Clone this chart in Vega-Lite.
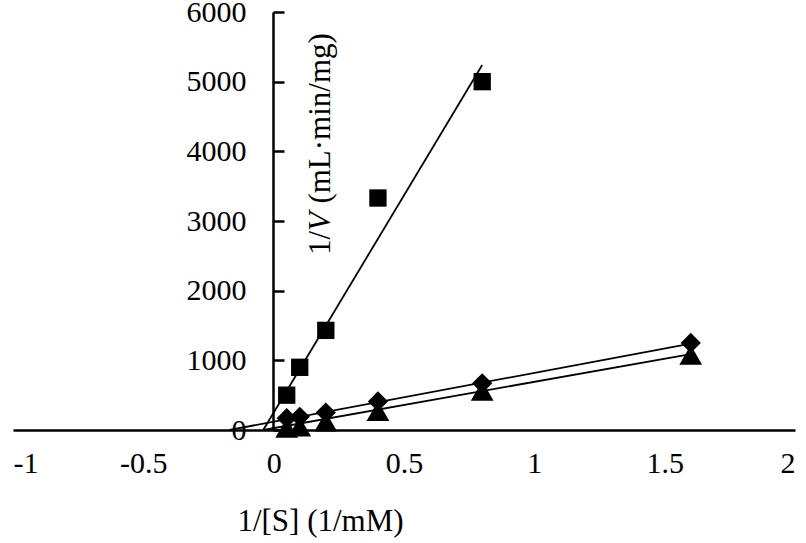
{
  "$schema": "https://vega.github.io/schema/vega-lite/v6.json",
  "width": 782,
  "height": 418,
  "autosize": {"type": "none"},
  "padding": {"left": 13, "top": 12, "right": 11, "bottom": 113},
  "background": "white",
  "config": {
    "view": {"stroke": null},
    "font": "Liberation Serif",
    "axis": {"grid": false, "labelFont": "Liberation Serif", "titleFont": "Liberation Serif", "labelColor": "#000", "titleColor": "#000", "domainColor": "#000", "tickColor": "#000", "titleFontWeight": "normal"}
  },
  "datasets": {
    "points": [
      {"series": "square", "s": 0.05, "v": 500},
      {"series": "square", "s": 0.1, "v": 900},
      {"series": "square", "s": 0.2, "v": 1430},
      {"series": "square", "s": 0.4, "v": 3330},
      {"series": "square", "s": 0.8, "v": 5000},
      {"series": "diamond", "s": 0.05, "v": 170},
      {"series": "diamond", "s": 0.1, "v": 190},
      {"series": "diamond", "s": 0.2, "v": 250},
      {"series": "diamond", "s": 0.4, "v": 410},
      {"series": "diamond", "s": 0.8, "v": 670},
      {"series": "diamond", "s": 1.6, "v": 1250},
      {"series": "triangle-up", "s": 0.05, "v": 30},
      {"series": "triangle-up", "s": 0.1, "v": 50},
      {"series": "triangle-up", "s": 0.2, "v": 120},
      {"series": "triangle-up", "s": 0.4, "v": 270},
      {"series": "triangle-up", "s": 0.8, "v": 560},
      {"series": "triangle-up", "s": 1.6, "v": 1080}
    ],
    "fits": [
      {"series": "square", "s": -0.04, "v": 0},
      {"series": "square", "s": 0.8, "v": 5240},
      {"series": "diamond", "s": -0.17, "v": 0},
      {"series": "diamond", "s": 1.6, "v": 1240},
      {"series": "triangle-up", "s": -0.04, "v": 0},
      {"series": "triangle-up", "s": 1.6, "v": 1090}
    ],
    "one": [{}]
  },
  "layer": [
    {
      "data": {"name": "fits"},
      "mark": {"type": "line", "color": "#000", "strokeWidth": 1.8},
      "encoding": {
        "x": {"field": "s", "type": "quantitative", "scale": {"domain": [-1, 2], "nice": false, "zero": false},
          "axis": {"values": [-1, -0.5, 0, 0.5, 1, 1.5, 2], "labelExpr": "'' + datum.value", "ticks": false, "domainWidth": 2.5, "labelFontSize": 30, "labelPadding": 18, "title": "1/[S] (1/mM)", "titleFontSize": 31, "titleX": 307, "titleY": 100, "titleBaseline": "alphabetic", "titleAlign": "center"}},
        "y": {"field": "v", "type": "quantitative", "scale": {"domain": [0, 6000], "nice": false},
          "axis": {"values": [0, 1000, 2000, 3000, 4000, 5000, 6000], "labelExpr": "'' + datum.value", "offset": -260, "tickSize": -11, "tickWidth": 2.5, "domainWidth": 2.5, "labelFontSize": 30, "labelPadding": 38, "title": null, "labelBaseline": "middle"}},
        "detail": {"field": "series"}
      }
    },
    {
      "data": {"name": "points"},
      "mark": {"type": "point", "filled": true, "color": "#000", "opacity": 1},
      "encoding": {
        "x": {"field": "s", "type": "quantitative"},
        "y": {"field": "v", "type": "quantitative"},
        "shape": {"field": "series", "type": "nominal", "scale": {"domain": ["square", "diamond", "triangle-up"], "range": ["square", "diamond", "triangle-up"]}, "legend": null},
        "size": {"field": "series", "type": "nominal", "scale": {"domain": ["square", "diamond", "triangle-up"], "range": [300, 520, 440]}, "legend": null}
      }
    },
    {
      "data": {"name": "one"},
      "mark": {"type": "text", "angle": 270, "align": "left", "baseline": "alphabetic", "fontSize": 31, "font": "Liberation Serif", "color": "#000", "text": "1/"},
      "encoding": {"x": {"datum": 0.218}, "y": {"datum": 2512}}
    },
    {
      "data": {"name": "one"},
      "mark": {"type": "text", "angle": 270, "align": "left", "baseline": "alphabetic", "fontSize": 31, "font": "Liberation Serif", "fontStyle": "italic", "color": "#000", "text": "V"},
      "encoding": {"x": {"datum": 0.218}, "y": {"datum": 2858}}
    },
    {
      "data": {"name": "one"},
      "mark": {"type": "text", "angle": 270, "align": "left", "baseline": "alphabetic", "fontSize": 31, "font": "Liberation Serif", "color": "#000", "text": "(mL·min/mg)"},
      "encoding": {"x": {"datum": 0.218}, "y": {"datum": 3250}}
    }
  ]
}
